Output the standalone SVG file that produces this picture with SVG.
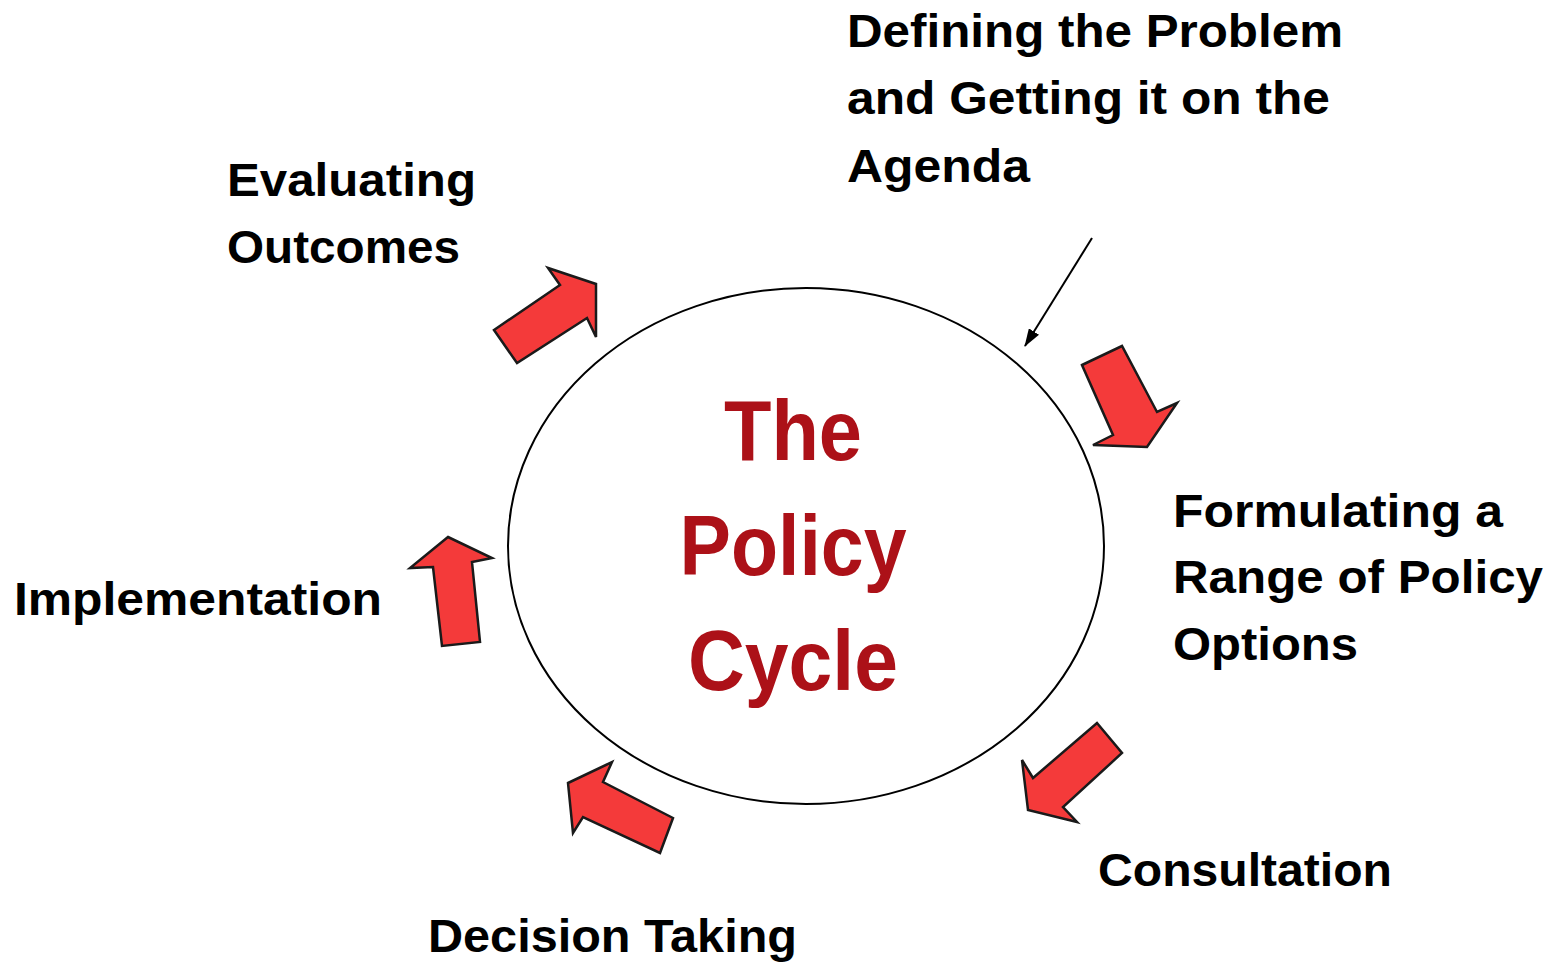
<svg xmlns="http://www.w3.org/2000/svg" width="1551" height="964" viewBox="0 0 1551 964">
<style>
.lbl{font-family:"Liberation Sans",Arial,sans-serif;font-weight:bold;font-size:46px;fill:#000}
.ttl{font-family:"Liberation Sans",Arial,sans-serif;font-weight:bold;font-size:86px;fill:#AC1118}
.arr{fill:#F43A3A;stroke:#1a1a1a;stroke-width:2.5;stroke-linejoin:miter}
</style>
<defs>
<marker id="ah" viewBox="0 0 18 12" refX="17" refY="6" markerWidth="18" markerHeight="12" orient="auto" markerUnits="userSpaceOnUse">
<path d="M0,0 L18,6 L0,12 z" fill="#000"/>
</marker>
</defs>
<rect width="1551" height="964" fill="#fff"/>
<g id="cycle">
<ellipse cx="806" cy="546" rx="298" ry="258" fill="#fff" stroke="#000" stroke-width="2"/>
<text class="ttl" x="793" y="460" text-anchor="middle" textLength="138" lengthAdjust="spacingAndGlyphs">The</text>
<text class="ttl" x="793" y="575" text-anchor="middle" textLength="227" lengthAdjust="spacingAndGlyphs">Policy</text>
<text class="ttl" x="793" y="690" text-anchor="middle" textLength="210" lengthAdjust="spacingAndGlyphs">Cycle</text>
</g>
<g id="defining">
<text class="lbl" x="847" y="47" textLength="496" lengthAdjust="spacingAndGlyphs">Defining the Problem</text>
<text class="lbl" x="847" y="114" textLength="483" lengthAdjust="spacingAndGlyphs">and Getting it on the</text>
<text class="lbl" x="847" y="182" textLength="183" lengthAdjust="spacingAndGlyphs">Agenda</text>
</g>
<g id="formulating">
<text class="lbl" x="1173" y="527" textLength="330" lengthAdjust="spacingAndGlyphs">Formulating a</text>
<text class="lbl" x="1173" y="593" textLength="370" lengthAdjust="spacingAndGlyphs">Range of Policy</text>
<text class="lbl" x="1173" y="660" textLength="185" lengthAdjust="spacingAndGlyphs">Options</text>
</g>
<g id="consultation">
<text class="lbl" x="1098" y="886" textLength="294" lengthAdjust="spacingAndGlyphs">Consultation</text>
</g>
<g id="decision">
<text class="lbl" x="428" y="952" textLength="369" lengthAdjust="spacingAndGlyphs">Decision Taking</text>
</g>
<g id="implementation">
<text class="lbl" x="14" y="615" textLength="368" lengthAdjust="spacingAndGlyphs">Implementation</text>
</g>
<g id="evaluating">
<text class="lbl" x="227" y="196" textLength="249" lengthAdjust="spacingAndGlyphs">Evaluating</text>
<text class="lbl" x="227" y="263" textLength="233" lengthAdjust="spacingAndGlyphs">Outcomes</text>
</g>
<g id="connectors">
<line x1="1092" y1="238" x2="1025" y2="346" stroke="#000" stroke-width="2" marker-end="url(#ah)"/>
<polygon class="arr" points="1082,365 1122,346 1157,412 1177,403 1147,447 1093,445 1113,435"/>
<polygon class="arr" points="1097,723 1122,753 1063,807 1077,822 1028,810 1022,760 1033,778"/>
<polygon class="arr" points="568,783 612,762 603,782 673,818 660,853 583,817 573,833"/>
<polygon class="arr" points="448,537 492,558 472,562 480,642 442,646 433,567 410,568"/>
<polygon class="arr" points="494,330 560,285 548,268 596,284 596,337 587,318 517,363"/>
</g>
</svg>
